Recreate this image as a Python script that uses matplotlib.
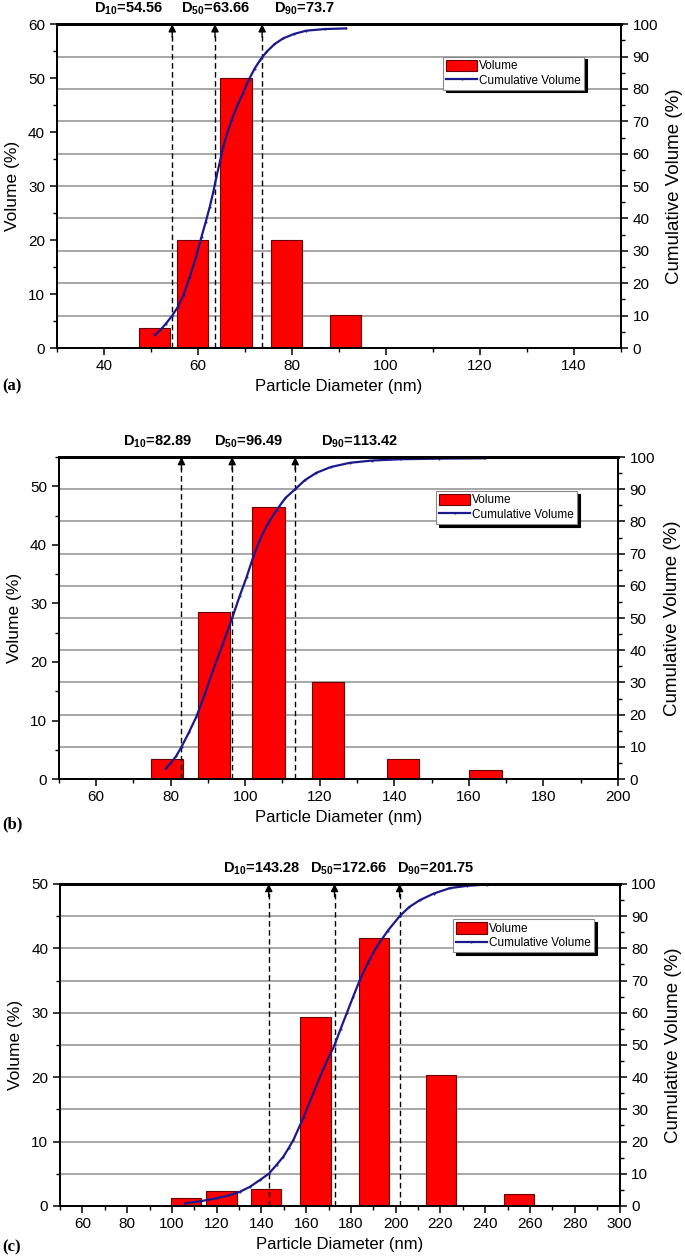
import matplotlib.pyplot as plt
import numpy as np
from matplotlib.ticker import MultipleLocator

plt.rcParams['font.family'] = ['Liberation Sans', 'DejaVu Sans']
plt.rcParams['mathtext.fontset'] = 'custom'
plt.rcParams['mathtext.rm'] = 'Liberation Sans:bold'
plt.rcParams['mathtext.it'] = 'Liberation Sans:bold'
plt.rcParams['mathtext.bf'] = 'Liberation Sans:bold'

# ---- data ----
# (a)
a_size = [50.8, 58.9, 68.1, 78.9, 91.4]
a_vol = [3.8, 20.0, 50.0, 20.0, 6.2]
a_cum_x = [50.85, 52.0, 53.2, 54.56, 55.8, 57.0, 58.3, 59.6, 60.8, 61.7,
           62.55, 63.3, 63.97, 64.7, 65.4, 66.3, 67.2, 68.4, 69.6, 70.8,
           72.1, 73.3, 74.6, 76.3, 78.15, 80.5, 83.1, 87.0, 91.5]
a_cum_y = [4.0, 5.5, 7.5, 10.0, 12.8, 16.5, 22.0, 28.0, 34.4, 39.0,
           43.6, 48.2, 52.9, 57.5, 62.1, 66.5, 70.4, 74.8, 78.6, 82.7,
           86.3, 89.0, 91.4, 93.8, 95.6, 97.0, 98.0, 98.5, 98.7]
a_d = [54.56, 63.66, 73.7]
a_dlab = ['54.56', '63.66', '73.7']

# (b)
b_size = [79.0, 91.6, 106.3, 122.2, 142.3, 164.5]
b_vol = [3.5, 28.6, 46.5, 16.5, 3.5, 1.5]
b_cum_x = [78.7, 80.0, 81.5, 82.9, 84.9, 86.9, 89.2, 91.4, 94.0, 96.5,
           98.5, 100.4, 102.1, 103.9, 106.0, 108.4, 110.8, 113.4, 116.0, 119.1,
           123.0, 128.1, 134.0, 141.5, 152.0, 164.3]
b_cum_y = [3.3, 5.0, 7.2, 10.0, 14.5, 19.4, 26.5, 33.9, 42.0, 50.0,
           56.8, 62.8, 68.8, 74.2, 79.2, 83.5, 87.3, 90.0, 92.8, 95.1,
           96.9, 98.2, 98.9, 99.3, 99.5, 99.6]
b_d = [82.89, 96.49, 113.42]
b_dlab = ['82.89', '96.49', '113.42']

# (c)
c_size = [106.2, 122.2, 142.2, 164.2, 190.3, 220.2, 255.2]
c_vol = [1.2, 2.3, 2.7, 29.4, 41.6, 20.3, 1.8]
c_cum_x = [105.9, 113.0, 120.0, 125.5, 130.4, 135.0, 139.4, 143.3, 146.8, 149.8,
           152.2, 154.3, 158.8, 163.2, 167.8, 172.7, 175.4, 178.1, 181.0, 184.0,
           187.6, 191.5, 196.5, 201.8, 206.0, 210.9, 217.0, 224.3, 232.0, 240.7,
           250.0]
c_cum_y = [0.8, 1.5, 2.4, 3.3, 4.4, 6.0, 8.1, 10.0, 12.8, 15.3,
           18.0, 20.5, 27.5, 35.0, 42.8, 50.0, 55.0, 59.8, 65.0, 70.2,
           75.5, 80.5, 85.5, 90.0, 92.8, 95.0, 97.0, 98.7, 99.4, 99.8,
           100.0]
c_d = [143.28, 172.66, 201.75]
c_dlab = ['143.28', '172.66', '201.75']


def panel(rect, size, vol, cx, cy, d, dlab, labx, width, xlim, xmajor, ylim, tag, tagy,
          leg_anchor):
    ax = fig.add_axes(rect)
    ax2 = ax.twinx()

    # grey grid lines at the cumulative axis ticks
    for g in np.arange(10, 100, 10):
        ax.axhline(g / 100.0 * ylim, color='#a0a0a0', lw=1.3, zorder=0)

    bars = ax.bar(size, vol, width=width, color='#ff0000', edgecolor='#6a0000',
                  lw=0.8, zorder=2, label='Volume')
    for xv in d:
        ax.plot([xv, xv], [0, ylim * 0.975], ls=(0, (4, 2.5)), color='k', lw=1.0, zorder=3)
        ax.annotate('', xy=(xv, ylim), xytext=(xv, ylim * 0.96),
                    arrowprops=dict(arrowstyle='-|>', color='k', lw=1,
                                    mutation_scale=11, shrinkA=0, shrinkB=0), zorder=4)
    for i in range(3):
        sub = ['10', '50', '90'][i]
        ax.annotate(r'D$_{' + sub + '}$=' + dlab[i], xy=(labx[i], 1.0),
                    xycoords=('data', 'axes fraction'), xytext=(0, 5),
                    textcoords='offset points', ha='center', va='bottom',
                    fontsize=10.5, fontweight='bold')

    line, = ax2.plot(cx, cy, color='#1a1a8a', lw=1.6, marker='.', ms=1,
                     label='Cumulative Volume')

    ax.set_xlim(xlim)
    ax.set_ylim(0, ylim)
    ax2.set_ylim(0, 100)
    ax.xaxis.set_major_locator(MultipleLocator(xmajor))
    ax.xaxis.set_minor_locator(MultipleLocator(xmajor / 2))
    ax.yaxis.set_major_locator(MultipleLocator(10))
    ax.yaxis.set_minor_locator(MultipleLocator(5))
    ax2.yaxis.set_major_locator(MultipleLocator(10))
    ax2.yaxis.set_minor_locator(MultipleLocator(5))

    for a in (ax, ax2):
        a.tick_params(which='major', direction='out', length=5, width=1.1, labelsize=11)
        a.tick_params(which='minor', direction='out', length=3, width=1.0)
        for s in a.spines.values():
            s.set_linewidth(1.3)
        a.spines['top'].set_linewidth(2)
    ax.tick_params(axis='x', pad=3)

    ax.set_xlabel('Particle Diameter (nm)', fontsize=12, labelpad=4)
    ax.set_ylabel('Volume (%)', fontsize=12.5, labelpad=6)
    ax2.set_ylabel('Cumulative Volume (%)', fontsize=13.5, labelpad=6)

    leg = ax2.legend([bars, line], ['Volume', 'Cumulative Volume'],
                     loc='upper right', bbox_to_anchor=leg_anchor, fontsize=8.5,
                     frameon=True, fancybox=False, shadow={'color': 'black', 'alpha': 1},
                     borderpad=0.25, handlelength=2.6, handleheight=1.1,
                     handletextpad=0.2, labelspacing=0.15, borderaxespad=0)
    leg.get_frame().set_edgecolor('#888888')
    leg.get_frame().set_linewidth(0.8)

    fig.text(0.004, tagy, tag, fontsize=12, fontweight='bold',
             family='Liberation Serif', va='center')
    return ax


fig = plt.figure(figsize=(6.85, 12.6), dpi=100)

panel([0.083, 0.7238, 0.823, 0.257], a_size, a_vol, a_cum_x, a_cum_y, a_d, a_dlab,
      [45.2, 63.7, 82.6], 6.7, (30, 150), 20, 60, '(a)', 1 - 386 / 1260, (0.935, 0.9))
panel([0.086, 0.3817, 0.816, 0.2556], b_size, b_vol, b_cum_x, b_cum_y, b_d, b_dlab,
      [76.6, 101.0, 130.8], 8.7, (50, 200), 20, 55, '(b)', 1 - 824 / 1260, (0.927, 0.895))
panel([0.0876, 0.0429, 0.8168, 0.2556], c_size, c_vol, c_cum_x, c_cum_y, c_d, c_dlab,
      [140.1, 178.8, 217.9], 13.5, (50, 300), 20, 50, '(c)', 1 - 1247 / 1260, (0.954, 0.89))

fig.savefig('out.png', dpi=100)
